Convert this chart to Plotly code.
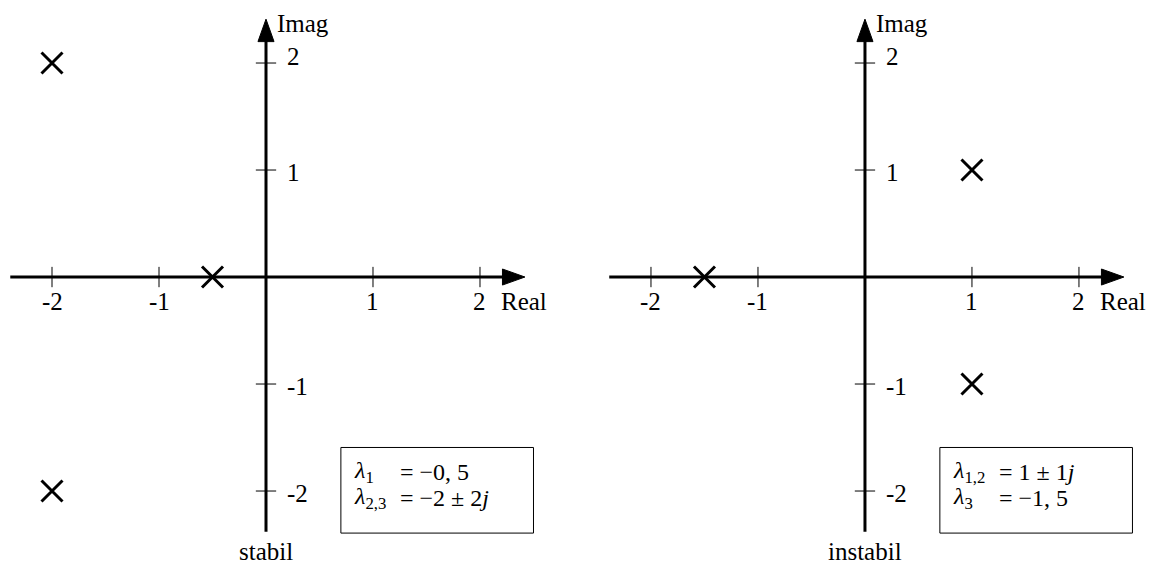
import plotly.graph_objects as go

# pole locations
stable_re = [-0.5, -2, -2]
stable_im = [0, 2, -2]
unstable_re = [1, 1, -1.5]
unstable_im = [1, -1, 0]

tick_vals = [-2, -1, 1, 2]
tick_text = ["-2", "-1", "1", "2"]

stable_eqs = [("<i>λ</i><sub>1</sub>", "= −0, 5"),
              ("<i>λ</i><sub>2,3</sub>", "= −2 ± 2<i>j</i>")]
unstable_eqs = [("<i>λ</i><sub>1,2</sub>", "= 1 ± 1<i>j</i>"),
                ("<i>λ</i><sub>3</sub>", "= −1, 5")]
captions = ["stabil", "instabil"]

FONT = "Liberation Serif"
fig = go.Figure()
shapes = []
annos = []


def panel(xr, yr, re, im, eqs, caption):
    # poles
    fig.add_trace(go.Scatter(
        x=re, y=im, xaxis=xr, yaxis=yr, mode="markers",
        marker=dict(symbol="x-thin", size=21, line=dict(width=3, color="black")),
        hoverinfo="skip"))
    ref = dict(xref=xr, yref=yr)
    # axes with arrows
    shapes.append(dict(type="line", x0=-2.39, x1=2.3, y0=0, y1=0,
                       line=dict(color="black", width=3), **ref))
    shapes.append(dict(type="line", x0=0, x1=0, y0=-2.38, y1=2.3,
                       line=dict(color="black", width=3), **ref))
    shapes.append(dict(type="path", path="M 2.21,0.075 L 2.42,0 L 2.21,-0.075 Z",
                       fillcolor="black", line=dict(color="black", width=1), **ref))
    shapes.append(dict(type="path", path="M -0.075,2.2 L 0,2.41 L 0.075,2.2 Z",
                       fillcolor="black", line=dict(color="black", width=1), **ref))
    for v, t in zip(tick_vals, tick_text):
        shapes.append(dict(type="line", x0=v, x1=v, y0=-0.095, y1=0.095,
                           line=dict(color="black", width=1), **ref))
        shapes.append(dict(type="line", x0=-0.095, x1=0.095, y0=v, y1=v,
                           line=dict(color="black", width=1), **ref))
        annos.append(dict(x=v, y=0, text=t, showarrow=False, xanchor="center",
                          yanchor="middle", yshift=-24, **ref))
        annos.append(dict(x=0, y=v, text=t, showarrow=False, xanchor="left",
                          yanchor="middle", xshift=19,
                          yshift=7 if v == max(tick_vals) else -2, **ref))
    annos.append(dict(x=0, y=2.37, text="Imag", showarrow=False, xanchor="left",
                      yanchor="middle", xshift=9, **ref))
    annos.append(dict(x=2.18, y=0, text="Real", showarrow=False, xanchor="left",
                      yanchor="middle", yshift=-24, **ref))
    annos.append(dict(x=0, y=-2.71, text=caption, showarrow=False, xanchor="center",
                      yanchor="bottom", **ref))
    # equation box
    shapes.append(dict(type="rect", x0=0.70, x1=2.50, y0=-2.393, y1=-1.593,
                       line=dict(color="black", width=1), fillcolor="white", **ref))
    for i, (lhs, rhs) in enumerate(eqs):
        y = -1.82 - 0.245 * i
        annos.append(dict(x=0.80, y=y, text=lhs, showarrow=False, xanchor="left",
                          yanchor="middle", font=dict(size=24), **ref))
        annos.append(dict(x=1.23, y=y, text=rhs, showarrow=False, xanchor="left",
                          yanchor="middle", font=dict(size=24), **ref))


panel("x", "y", stable_re, stable_im, stable_eqs, captions[0])
panel("x2", "y2", unstable_re, unstable_im, unstable_eqs, captions[1])

ax = dict(visible=False, fixedrange=True)
fig.update_layout(
    width=1156, height=567,
    margin=dict(l=0, r=0, t=0, b=0),
    paper_bgcolor="white", plot_bgcolor="white",
    showlegend=False,
    font=dict(family=FONT, size=25, color="black"),
    xaxis=dict(domain=[0, 0.5], range=[-2.486, 2.916], **ax),
    yaxis=dict(domain=[0, 1], range=[-2.710, 2.589], **ax),
    xaxis2=dict(domain=[0.5, 1], range=[-2.682, 2.720], **ax),
    yaxis2=dict(domain=[0, 1], range=[-2.710, 2.589], anchor="x2", **ax),
    shapes=shapes,
    annotations=annos,
)

# drop the default page margin so the 1156x567 figure fills the window
fig.write_html("out.html", config={"displayModeBar": False},
               post_script="document.body.style.margin='0';")
